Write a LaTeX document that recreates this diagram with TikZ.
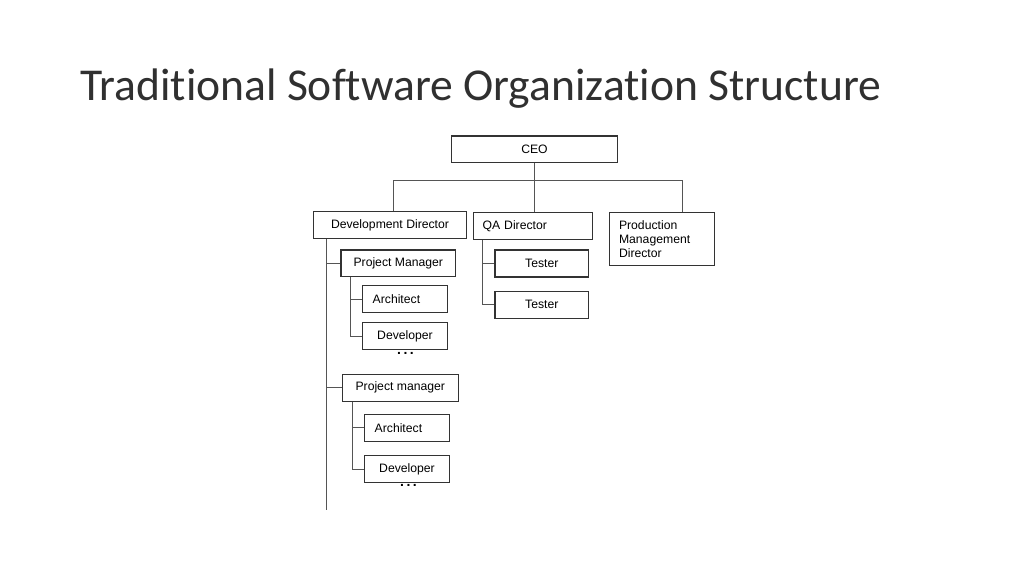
\documentclass[tikz,border=0pt]{standalone}
\usepackage{fontspec}
\setmainfont{Liberation Sans}
\newfontfamily\titlefont[Ligatures={NoCommon,NoDiscretionary,NoRare}]{Carlito}
\definecolor{boxline}{HTML}{333333}
\definecolor{conline}{HTML}{555555}
\definecolor{titlecol}{HTML}{303030}
\begin{document}
\begin{tikzpicture}[x=1pt,y=-1pt,
  box/.style={draw=boxline, line width=1.1pt, inner sep=0pt, font=\fontsize{12.2}{14}\selectfont, text=black},
  cbox/.style={box, align=center},
  lbox/.style={box, align=left},
  conn/.style={draw=conline, line width=1pt},
  dots/.style={font=\fontsize{14}{14}\bfseries, inner sep=0pt}]
\useasboundingbox (0,0) rectangle (1024,576);
\fill[white] (0,0) rectangle (1024,576);
\node[anchor=base west, font=\titlefont\fontsize{45.6}{50}\selectfont, text=titlecol, inner sep=0pt] (title) at (80,100) {Traditional Software Organization Structure};

% boxes
\node[cbox, minimum width=165.6, minimum height=26.7] (ceo) at (534.5,149.3) {CEO};
\node[cbox, minimum width=153.4, minimum height=26.6] (dd) at (390,225) {Development Director};
\node[lbox, text width=101, inner xsep=8.8pt, minimum height=26.6] (qa) at (533,226) {QA Director};
\node[lbox, text width=86, inner xsep=9.5pt, minimum height=53] (pmd) at (662,239.2) {Production\\Management\\Director};
\node[cbox, minimum width=114.7, minimum height=26.7] (pm1) at (398.3,263.3) {Project Manager};
\node[lbox, text width=64.6, inner xsep=10pt, minimum height=27] (ar1) at (405,299.2) {Architect};
\node[cbox, minimum width=84.6, minimum height=26.6] (dv1) at (405,336) {Developer};
\node[cbox, minimum width=116, minimum height=26.7] (pm2) at (400.3,387.7) {Project manager};
\node[lbox, text width=64.6, inner xsep=10pt, minimum height=26.7] (ar2) at (407,427.7) {Architect};
\node[cbox, minimum width=84.6, minimum height=26.6] (dv2) at (407,469) {Developer};
\node[cbox, minimum width=93.7, minimum height=27] (t1) at (541.8,263.5) {Tester};
\node[cbox, minimum width=93.7, minimum height=26.7] (t2) at (541.8,304.7) {Tester};

\node[dots] (d1) at (405.5,353.5) {.\hspace{2.5pt}.\hspace{2.5pt}.};
\node[dots] (d2) at (408.5,485) {.\hspace{2.5pt}.\hspace{2.5pt}.};

% connectors
\coordinate (busL) at (393.3,180.7);
\coordinate (busR) at (682.7,180.7);
\draw[conn] (busL |- dd.north) -- (busL) -- (busR) -- (busR |- pmd.north);
\draw[conn] (ceo.south) -- (ceo.south |- qa.north);

\coordinate (ddx) at (326,510);
\draw[conn] (ddx |- dd.south) -- (ddx);
\draw[conn] (ddx |- pm1.west) -- (pm1.west);
\draw[conn] (ddx |- pm2.west) -- (pm2.west);

\coordinate (pm1x) at (350,0);
\draw[conn] (pm1x |- pm1.south) -- (pm1x |- dv1.west) -- (dv1.west);
\draw[conn] (pm1x |- ar1.west) -- (ar1.west);

\coordinate (pm2x) at (352.3,0);
\draw[conn] (pm2x |- pm2.south) -- (pm2x |- dv2.west) -- (dv2.west);
\draw[conn] (pm2x |- ar2.west) -- (ar2.west);

\coordinate (qax) at (482.7,0);
\draw[conn] (qax |- qa.south) -- (qax |- t2.west) -- (t2.west);
\draw[conn] (qax |- t1.west) -- (t1.west);
\end{tikzpicture}
\end{document}
